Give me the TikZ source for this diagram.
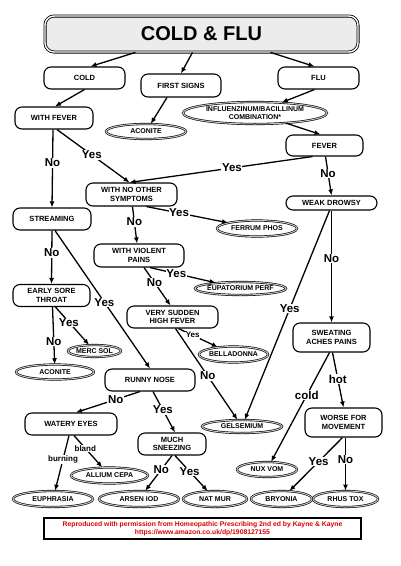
\documentclass[tikz,border=0pt]{standalone}
\usepackage{fontspec}
\setmainfont{Liberation Sans}
\usetikzlibrary{shapes.geometric,arrows.meta}

\tikzset{
  box/.style={draw, line width=1.1pt, rounded corners=7pt, fill=white, align=center,
    font=\bfseries\fontsize{7.5}{8.5}\selectfont, inner sep=1pt},
  remedy/.style={draw, ellipse, line width=0.6pt, double=gray!45, double distance=1pt,
    fill=white, align=center, font=\bfseries\fontsize{7}{7.5}\selectfont,
    inner xsep=-12pt, inner ysep=0pt},
  ans/.style={fill=white, inner sep=0.6pt, font=\bfseries\fontsize{11.5}{12}\selectfont},
  smallans/.style={fill=white, inner sep=0.5pt, font=\bfseries\fontsize{8}{8}\selectfont},
}

\begin{document}
\begin{tikzpicture}[x=1pt, y=-1pt, >={Latex[length=6pt,width=5pt]}, line width=1.3pt]
    \useasboundingbox (0,0) rectangle (400,566);

    \node[draw, line width=0.8pt, double=white, double distance=1.4pt, fill=gray!15,
          rounded corners=9pt, minimum width=313pt, minimum height=36pt,
          font=\bfseries\fontsize{20}{22}\selectfont] (title) at (201.5,34) {COLD \& FLU};

    \node[box, minimum width=81pt, minimum height=22pt] (cold) at (84.5,78) {COLD};
    \node[box, minimum width=80pt, minimum height=23pt] (firstsigns) at (181,85.5) {FIRST SIGNS};
    \node[box, minimum width=81pt, minimum height=22pt] (flu) at (318.5,78) {FLU};
    \node[box, minimum width=78pt, minimum height=22pt] (withfever) at (54,118) {WITH FEVER};
    \node[remedy, minimum width=80pt, minimum height=15pt] (aconitea) at (146,131.5) {ACONITE};
    \node[remedy, minimum width=144pt, minimum height=22pt] (influenz) at (255,113) {INFLUENZINUM/BACILLINUM\\COMBINATION*};
    \node[box, minimum width=77pt, minimum height=21pt] (fever) at (324.5,145.5) {FEVER};

    \node[box, minimum width=91pt, minimum height=23pt] (noother) at (131.5,194.5) {WITH NO OTHER\\SYMPTOMS};
    \node[box, minimum width=78pt, minimum height=22pt] (streaming) at (52,219) {STREAMING};
    \node[box, minimum width=91pt, minimum height=14pt] (weakdrowsy) at (331.5,203) {WEAK DROWSY};
    \node[remedy, minimum width=80pt, minimum height=16pt] (ferrum) at (257,228.5) {FERRUM PHOS};
    \node[box, minimum width=90pt, minimum height=23pt] (violent) at (139,255.5) {WITH VIOLENT\\PAINS};
    \node[remedy, minimum width=91pt, minimum height=13pt] (eupatorium) at (240.5,288.5) {EUPATORIUM PERF};

    \node[box, minimum width=77pt, minimum height=22pt] (earlysore) at (51.5,295.5) {EARLY SORE\\THROAT};
    \node[box, minimum width=91pt, minimum height=22pt] (sudden) at (172.5,317) {VERY SUDDEN\\HIGH FEVER};
    \node[box, minimum width=77pt, minimum height=29pt] (sweating) at (331.5,337.5) {SWEATING\\ACHES PAINS};
    \node[remedy, minimum width=69pt, minimum height=16pt] (belladonna) at (233.5,354.5) {BELLADONNA};
    \node[remedy, minimum width=53pt, minimum height=12pt] (mercsol) at (94.5,351) {MERC SOL};
    \node[remedy, minimum width=78pt, minimum height=15pt] (aconiteb) at (55,372) {ACONITE};

    \node[box, minimum width=90pt, minimum height=22pt] (runny) at (150,380) {RUNNY NOSE};
    \node[box, minimum width=92pt, minimum height=22pt] (watery) at (71,424) {WATERY EYES};
    \node[box, minimum width=68pt, minimum height=22pt] (sneezing) at (172,444) {MUCH\\SNEEZING};
    \node[box, minimum width=77pt, minimum height=29pt] (worse) at (343.5,422.5) {WORSE FOR\\MOVEMENT};
    \node[remedy, minimum width=80pt, minimum height=13pt] (gelsemium) at (242,426.5) {GELSEMIUM};
    \node[remedy, minimum width=60pt, minimum height=15pt] (nuxvom) at (267,469.5) {NUX VOM};
    \node[remedy, minimum width=77pt, minimum height=16pt] (allium) at (109.5,475.5) {ALLIUM CEPA};

    \node[remedy, minimum width=80pt, minimum height=16pt] (euphrasia) at (53,499) {EUPHRASIA};
    \node[remedy, minimum width=80pt, minimum height=16pt] (arsen) at (139,499) {ARSEN IOD};
    \node[remedy, minimum width=64pt, minimum height=16pt] (natmur) at (215,499) {NAT MUR};
    \node[remedy, minimum width=61pt, minimum height=16pt] (bryonia) at (281.5,499) {BRYONIA};
    \node[remedy, minimum width=65pt, minimum height=16pt] (rhustox) at (345.5,499) {RHUS TOX};

    \node[draw, line width=2pt, minimum width=317pt, minimum height=19pt, align=center,
          text=red!85!black, font=\bfseries\fontsize{6.8}{7.8}\selectfont] (credit) at (202.5,528.5)
          {Reproduced with permission from Homeopathic Prescribing 2nd ed by Kayne \& Kayne\\https://www.amazon.co.uk/dp/1908127155};

    \draw[->] ([xshift=-66pt]title.south) to ([xshift=6pt]cold.north);
    \draw[->] ([xshift=-9pt]title.south) to (firstsigns.north);
    \draw[->] ([xshift=69pt]title.south) to ([xshift=-4pt]flu.north);
    \draw[->] (cold.south) to ([xshift=1pt]withfever.north);
    \draw[->] ([xshift=-14pt]firstsigns.south) to (aconitea);
    \draw[->] ([xshift=-4pt]flu.south) to (influenz);
    \draw[->] (influenz) to ([xshift=-4pt]fever.north);

    \draw[->] ([xshift=-1pt]withfever.south) to node[ans, pos=0.43] {No} (streaming.north);
    \draw[->] ([xshift=3pt]withfever.south) to node[ans, pos=0.48] {Yes} ([xshift=-2pt]noother.north);
    \draw[->] ([xshift=-12pt]fever.south) to node[ans, pos=0.44] {Yes} ([xshift=-2pt]noother.north);
    \draw[->] ([xshift=1pt]fever.south) to node[ans, pos=0.43] {No} (weakdrowsy.north);
    \draw[->] ([xshift=15pt]noother.south) to node[ans, pos=0.4] {Yes} (ferrum);
    \draw[->] ([xshift=1pt]noother.south) to node[ans, pos=0.42] {No} ([xshift=-2pt]violent.north);
    \draw[->] ([xshift=11pt]violent.south) to node[ans, pos=0.4] {Yes} (eupatorium);
    \draw[->] ([xshift=5pt]violent.south) to node[ans, pos=0.4] {No} ([xshift=-2pt]sudden.north);
    \draw[->] ([xshift=-2pt]weakdrowsy.south) to node[ans, pos=0.47] {Yes} (gelsemium);
    \draw[->] (weakdrowsy.south) to node[ans, pos=0.43] {No} (sweating.north);

    \draw[->] (streaming.south) to node[ans, pos=0.42] {No} (earlysore.north);
    \draw[->] ([xshift=3pt]streaming.south) to node[ans, pos=0.52] {Yes} (runny.north);
    \draw[->] ([xshift=4pt]earlysore.south) to node[ans, pos=0.4] {Yes} (mercsol);
    \draw[->] ([xshift=1pt]earlysore.south) to node[ans, pos=0.6] {No} (aconiteb);
    \draw[->] ([xshift=6pt]sudden.south) to node[smallans, pos=0.36] {Yes} (belladonna);
    \draw[->] ([xshift=3pt]sudden.south) to node[ans, pos=0.52] {No} (gelsemium);
    \draw[->] ([xshift=-2pt]sweating.south) to node[ans, pos=0.39] {cold} (nuxvom);
    \draw[->] ([xshift=1pt]sweating.south) to node[ans, pos=0.48] {hot} (worse.north);

    \draw[->] ([xshift=-10pt]runny.south) to node[ans, pos=0.38] {No} ([xshift=5pt]watery.north);
    \draw[->] ([xshift=3pt]runny.south) to node[ans, pos=0.45] {Yes} ([xshift=3pt]sneezing.north);
    \draw[->] ([xshift=3pt]watery.south) to node[smallans, pos=0.4] {bland} (allium);
    \draw[->] ([xshift=-2pt]watery.south) to node[smallans, pos=0.43] {burning} (euphrasia);
    \draw[->] (sneezing.south) to node[ans, pos=0.4] {No} (arsen);
    \draw[->] ([xshift=3pt]sneezing.south) to node[ans, pos=0.45] {Yes} (natmur);
    \draw[->] ([xshift=-1pt]worse.south) to node[ans, pos=0.45] {Yes} (bryonia);
    \draw[->] ([xshift=2pt]worse.south) to node[ans, pos=0.42] {No} (rhustox);
\end{tikzpicture}
\end{document}
